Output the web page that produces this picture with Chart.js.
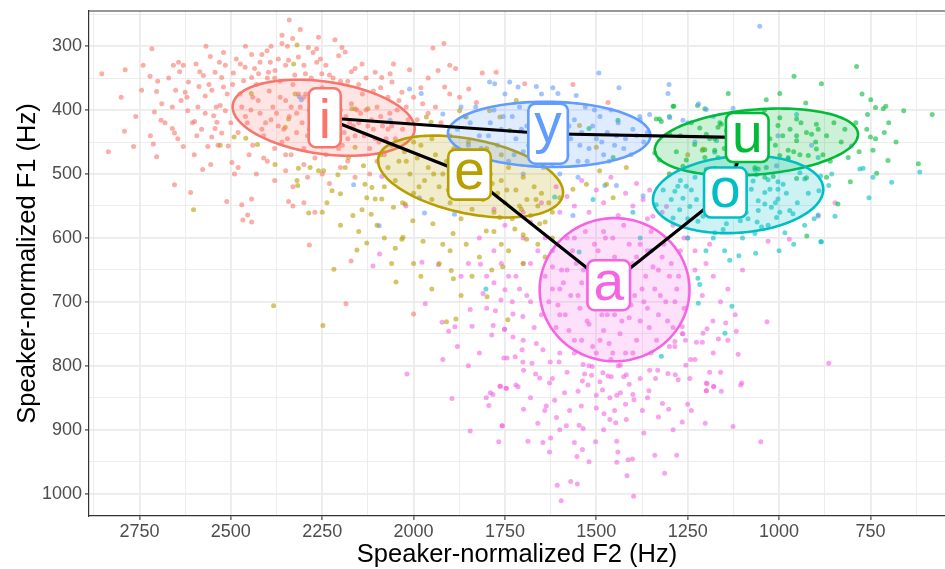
<!DOCTYPE html>
<html>
<head>
<meta charset="utf-8">
<script src="https://cdn.jsdelivr.net/npm/chart.js"></script>
<style>
  html, body { margin: 0; padding: 0; background: #fff; overflow: hidden; }
  canvas { display: block; }
</style>
</head>
<body>
<canvas id="vowelChart" width="945" height="569"></canvas>
<script>
// Vowel categories and colours (ggplot hue order)
const vowels = ['i', 'e', 'y', 'u', 'o', 'a'];
const vowelColors = ['#F8766D', '#B79F00', '#619CFF', '#00BA38', '#00BFC4', '#F564E3'];

// Vowel means (label positions), Hz
const meanF2 = [2243, 1847, 1632, 1087, 1147, 1466];
const meanF1 = [412, 501, 437, 443, 529, 674];

// Ellipse centre, half widths and tilt, Hz
const ellF2 = [2246, 1844, 1629, 1062, 1112, 1450];
const ellF1 = [412, 504, 438, 450, 532, 681];
const ellRx = [249, 253, 277, 278, 233, 205];
const ellRy = [57, 59, 51, 51, 60, 112];
const ellTilt = [17, 25, 2, -12, -8, 0];

// Order of the vowel polygon
const polygonOrder = ['i', 'y', 'u', 'o', 'a', 'e', 'i'];

// Tick labels and minor grid values
const xTickLabels = [2750, 2500, 2250, 2000, 1750, 1500, 1250, 1000, 750];
const xMinorGrid = [2875, 2625, 2375, 2125, 1875, 1625, 1375, 1125, 875, 625];
const yTickLabels = [300, 400, 500, 600, 700, 800, 900, 1000];
const yMinorGrid = [250, 350, 450, 550, 650, 750, 850, 950];

// Tokens: [F2, F1]
const iTokens = [
  [2853,343],[2789,337],[2716,304],[2835,465],[2791,433],[2766,457],[2744,369],[2721,347],[2703,371],[2689,390],
  [2709,403],[2691,416],[2712,453],[2703,473],[2657,330],[2643,325],[2630,330],[2651,369],[2636,385],[2618,401],
  [2625,372],[2616,356],[2660,429],[2654,436],[2630,457],[2593,440],[2599,418],[2595,328],[2575,346],[2568,300],
  [2556,316],[2577,493],[2654,517],[2610,529],[2587,363],[2570,378],[2552,369],[2543,341],[2531,325],[2515,330],
  [2525,349],[2520,364],[2529,393],[2515,401],[2547,409],[2538,419],[2543,429],[2525,436],[2552,442],[2507,456],
  [2563,457],[2497,482],[2511,543],[2470,548],[2454,564],[2467,572],[2443,575],[2443,539],[2493,342],[2474,328],
  [2461,333],[2443,313],[2415,313],[2401,307],[2465,354],[2443,349],[2424,343],[2392,325],[2397,341],[2379,338],
  [2360,283],[2360,296],[2340,259],[2310,274],[2331,288],[2342,322],[2315,317],[2288,302],[2260,286],[2265,304],
  [2265,325],[2296,343],[2251,343],[2196,302],[2187,309],[2205,315],[2160,335],[2141,328],[2105,341],[2087,349],
  [2064,343],[2055,328],[2059,356],[2032,372],
  [2470,395],[2455,420],[2440,380],[2420,405],[2410,440],[2395,370],[2385,395],[2370,425],[2360,450],[2350,385],
  [2340,410],[2330,360],[2320,435],[2310,395],[2300,460],[2295,375],[2280,420],[2270,445],[2260,390],[2250,365],
  [2240,470],[2230,400],[2215,430],[2205,380],[2195,455],[2185,410],[2170,390],[2160,440],[2150,420],[2140,375],
  [2130,400],[2120,460],[2110,430],[2100,395],[2090,410],[2075,445],[2060,425],[2045,400],[2030,430],[2015,415],
  [2350,470],[2380,350],[2230,345],[2180,355],[2440,455],[2290,440],
  [2460,410],[2425,385],[2405,420],[2375,405],[2355,430],[2335,395],[2315,375],[2305,420],[2285,400],[2275,380],
  [2255,425],[2245,440],[2225,385],[2210,410],[2190,435],[2175,420],[2155,400],[2135,440],[2115,415],[2095,450],
  [2070,430],[2050,445],[2205,460],[2260,455],
  [2445,400],[2415,430],[2390,415],[2365,380],[2345,445],[2320,405],[2300,380],[2285,430],[2265,410],[2235,420],
  [2220,445],[2200,400],[2180,445],[2165,425],[2145,405],[2125,425],[2105,445],[2085,425],[2065,405],
  [2480,490],[2430,500],[2400,480],[2380,510],[2350,495],[2330,520],[2300,485],[2290,505],[2270,475],[2250,500],
  [2230,515],[2200,490],[2180,480],[2160,505],[2120,500],[2300,545],[2330,550],[2270,560],[2080,470],[2100,480],
  [2800,380],[2760,410],[2740,330],[2720,440],[2700,355],[2680,420],[2670,350],[2660,395],[2645,445],[2640,340],
  [2620,380],[2605,420],[2600,470],[2590,395],[2585,340],[2580,430],[2570,405],[2560,360],[2555,485],[2540,395],
  [2535,455],[2520,310],[2510,375],[2500,420],[2495,360],[2490,500],[2485,320],[2480,435],[2475,375],[2460,300],
  [2450,470],[2435,335],[2430,360],[2420,325],[2410,475],[2400,350],[2390,300],[2380,460],[2370,320],[2365,355],
  [2350,330],[2345,300],[2335,470],[2325,345],[2300,330],[2280,350],[2275,310],[2255,320],[2240,330],[2220,350],
  [2215,290],[2200,355],[2170,340],[2150,360],[2130,350],[2110,370],[2090,365],[2070,380],[2040,385],[2020,395],
  [2000,380],[1980,365],[1960,350],
  [1947,303],[1917,296],[2011,337],[1933,338],[1901,330],[1885,335],[1915,364],[1901,375],[1874,380],[1849,367],
  [1812,342],[1774,341],[1828,388],[1696,359],[1564,360],[1468,388],[1975,390],[1960,405],[1940,395],[1925,420],
  [1990,415],[2171,636],[2185,703],[2000,719],[2285,611],[2342,543]
];

const eTokens = [
  [2319,298],[2328,328],[2444,374],[2529,455],[2491,442],[2459,444],[2427,454],[2351,427],[2342,414],[2324,375],
  [2602,556],[2287,561],[2379,485],[2315,491],[2283,490],[2319,510],[2317,518],[2260,495],[2246,495],[2237,545],
  [2223,526],[2200,531],[2207,501],[2187,490],[2169,398],[2160,398],[2125,398],[2178,474],[2160,458],[2137,487],
  [2133,516],[2114,521],[2128,537],[2105,539],[2087,539],[2141,556],[2166,565],[2116,563],[2055,552],[2023,547],
  [2032,602],[2050,616],[2128,608],[2155,619],[2218,649],[2048,669],[2383,706],[2248,737],[1897,651],[1891,664],
  [1786,650],[1756,645],[1910,731],[1884,727],[1799,692],[1742,728],
  [2090,470],[2070,490],[2060,455],[2050,510],[2040,480],[2025,465],[2010,500],[2000,530],[1990,475],[1980,455],
  [1970,510],[1960,490],[1950,540],[1940,470],[1930,520],[1920,500],[1910,480],[1900,545],[1890,460],[1880,515],
  [1870,495],[1860,530],[1850,475],[1840,555],[1830,505],[1820,485],[1810,540],[1800,520],[1790,500],[1780,560],
  [1770,530],[1760,510],[1750,545],[1740,490],[1730,570],[1720,525],[1710,550],[1700,505],[1690,540],[1680,565],
  [1670,520],[1660,550],[1650,530],[1640,575],[1630,545],[1620,560],[1900,440],[1850,450],[1800,460],[1760,470],
  [2000,450],[1950,445],[2080,520],[2030,545],[1870,570],[1780,590],[1700,595],
  [2020,480],[1985,520],[1945,500],[1905,525],[1865,485],[1825,525],[1785,515],[1745,525],[1705,555],[1665,540],
  [2250,560],[2200,580],[2150,590],[2100,580],[2080,600],[2060,640],[2000,640],[1980,660],[1950,680],[1930,640],
  [1900,620],[1870,690],[1840,660],[1820,630],[1760,610],[1740,620],[1700,640],[1660,610],[1640,630],[1620,600],
  [2002,573],[1974,605],[2029,599],[1947,578],[1892,593],[1920,610],[1856,610],[1801,589],[1764,568],[1723,586],
  [1691,602],[1655,578],[1600,537],[1564,524],[1527,516],[1491,495],[1472,516],[1454,537],[1418,490],[1719,385],
  [1764,411],[1792,401],[1637,432],[1546,424],[1500,458],[1600,458],[1856,411],[1874,401],[1952,419],[1965,411],
  [1208,461],[1300,500],[1250,470]
];

const yTokens = [
  [1792,356],[1778,359],[1737,356],[1714,364],[1664,363],[1619,365],[1605,374],[1555,377],[1493,342],[1438,365],
  [1301,360],[1304,374],[1979,374],[2011,367],[1920,406],[1984,537],[1970,561],[1888,563],[1477,518],[1445,518],
  [1372,534],[1299,412],[1263,416],
  [1880,430],[1860,410],[1850,455],[1830,395],[1820,440],[1800,470],[1790,420],[1780,400],[1770,455],[1760,430],
  [1740,480],[1730,410],[1720,445],[1710,395],[1700,465],[1690,425],[1680,440],[1670,405],[1660,475],[1650,450],
  [1640,390],[1630,420],[1620,485],[1610,460],[1600,430],[1590,400],[1580,470],[1570,445],[1560,415],[1550,480],
  [1540,435],[1530,395],[1520,460],[1510,425],[1500,445],[1490,410],[1480,470],[1470,435],[1460,400],[1450,455],
  [1440,420],[1420,445],[1400,430],[1380,415],[1370,450],[1360,435],[1600,500],[1700,500],[1550,505],[1750,375],
  [1650,375],
  [1870,395],[1845,420],[1815,460],[1795,440],[1755,410],[1725,470],[1705,430],[1685,455],[1655,420],[1645,490],
  [1625,445],[1595,480],[1575,425],[1545,455],[1525,480],[1505,400],[1485,450],[1465,480],[1445,440],[1425,460],
  [1405,470],[1390,440],
  [1053,269],[1199,399],[1126,397],[1003,440],[911,455],[1007,487],[802,456],[2164,517],[2094,581],[2313,379],
  [2307,384],[2064,416],[1564,565],[1381,410],[1354,407],[1250,420],[1220,390],[1180,410],[1230,450]
];

const uTokens = [
  [788,332],[959,347],[884,359],[1139,374],[998,374],[1035,384],[927,389],[773,375],[749,384],[736,396],
  [715,398],[708,394],[659,401],[581,407],[758,407],[712,435],[750,442],[736,445],[743,463],[781,465],
  [811,474],[702,479],[619,484],[733,499],[805,512],[924,597],[839,547],[870,505],
  [952,414],[898,422],[893,430],[925,435],[911,438],[952,440],[952,448],[898,461],[975,463],[998,412],
  [1003,424],[1035,424],[1025,445],[998,471],[943,470],[920,471],[975,476],[1035,490],[1057,492],[1016,504],
  [1039,505],[952,507],[925,506],[1158,422],[1167,427],[1144,432],[1176,445],[1117,453],[1176,463],[1203,474],
  [1167,474],[1117,484],[1066,490],[1199,495],[1210,463],
  [1336,414],[1322,418],[1290,394],[1217,428],[1199,438],[1162,420],[1299,438],[1281,465],[1327,478],[1340,467],
  [1254,478],[1203,462],[1231,454],[1176,491],[1199,493],[1263,488],
  [1288,394],[1327,414],[1441,416],[1520,429],[1454,474],[1737,432],[1223,393],[1203,398],
  [1100,430],[1080,465],[1050,410],[1010,455],[970,430],[870,440],[850,420],[830,450],[1120,470],[1090,500],
  [1300,410],[1270,440],[1240,420],[1190,445],[1150,460],[1130,410],[1070,440],[1060,460],[1040,400],[990,440],
  [960,465],[940,420],[900,450],[880,470],[860,480],[820,430],[790,420],[760,430],[700,420],[680,450]
];

const oTokens = [
  [952,407],[975,474],[893,474],[779,492],[770,491],[615,497],[743,505],[692,513],[754,537],[847,566],
  [904,570],[891,526],[864,518],[856,500],[886,503],[943,498],[930,508],[989,516],[1025,524],[1003,524],
  [1071,511],[1076,524],[1039,529],[1057,542],[1039,547],[1003,539],[1021,552],[998,560],[971,557],[962,562],
  [1007,568],[1057,557],[1085,570],[1048,583],[1066,593],[984,592],[1106,573],[1144,578],[1149,620],[1135,635],
  [1110,628],[1064,624],[886,606],[1171,448],[1176,466],
  [1254,519],[1240,525],[1263,538],[1244,551],[1272,556],[1285,527],[1295,540],[1277,519],[1226,540],[1208,566],
  [1222,574],[1290,569],[1317,525],[1336,548],[1126,558],[1176,592],[1153,587],[1066,493],[1062,501],[1030,509],
  [1003,512],[893,564],[884,606],
  [1300,500],[1270,510],[1230,505],[1200,530],[1180,550],[1150,520],[1130,500],[1110,535],[1090,560],[1060,575],
  [1030,580],[1010,545],[980,530],[950,545],[930,580],[920,530],[960,610],[1000,620],[1100,600],[1250,570],
  [1547,622],[1222,663],[1217,673],[1322,785],[1221,702],[1129,707],[1148,749],[1802,680],[1614,536],[1509,540],
  [1400,560],[1380,600],[1350,620],[1190,510],[1160,540],[1120,520],[1100,545],[1180,600],[1200,620],[1250,600]
];

const aTokens = [
  [1728,719],[1701,723],[1751,743],[1728,755],[1703,775],[1744,788],[1722,786],[1701,794],[1676,796],[1699,807],
  [1714,833],[1746,835],[1764,832],[1664,765],[1646,775],[1626,794],[1602,794],[1666,813],[1655,819],[1628,827],
  [1587,842],[1614,854],[1637,863],[1699,868],[1641,870],[1573,870],[1541,863],[1609,881],[1582,894],[1547,893],
  [1536,898],[1757,894],[1687,918],[1646,920],[1625,913],[1628,935],[1502,919],[1553,942],[1538,931],[1444,918],
  [1441,935],[1444,951],[1413,947],[1401,946],[1416,972],[1313,968],[1607,987],[1570,981],[1552,985],[1596,1011],
  [1398,1004],[1536,798],[1511,801],[1532,813],[1513,815],[1523,830],[1538,824],[1482,811],[1468,816],[1459,817],
  [1425,817],[1418,814],[1434,799],[1410,829],[1483,838],[1500,846],[1463,850],[1400,845],[1397,853],[1434,842],
  [1444,846],[1500,866],[1479,875],[1463,884],[1447,889],[1418,884],[1374,870],[1354,807],[1338,820],[1332,807],
  [1319,859],[1302,868],[1304,812],[1284,814],[1276,822],[1356,839],[1244,820],[1255,799],[1242,790],[1265,888],
  [1202,890],[1190,810],[1199,827],[1179,832],[1199,839],[1158,840],[1126,895],[1102,827],[1105,830],[1112,782],
  [1050,919],[1033,731],[1117,746],[1146,733],[1166,758],[1181,730],[1197,742],[1208,749],[1226,763],[1210,763],
  [1256,760],[1263,750],[1265,739],[1285,762],[1285,770],
  [2111,644],[1977,638],[1932,642],[1817,641],[1968,703],[1922,732],[1904,746],[1887,739],[1840,738],[1845,712],
  [1810,687],[1780,670],[1776,714],[1782,737],[1786,752],[1761,697],[1750,681],[1751,743],[1753,788],[2018,813],
  [1895,851],[1801,850],[1790,842],[1783,845],[1794,862],[1762,832],[1747,835],[1758,894],[1845,902],[1767,919],
  [2087,504],[2021,550],[2093,625],
  [1640,660],[1630,700],[1620,620],[1610,740],[1600,680],[1595,650],[1585,720],[1580,600],[1570,690],[1560,760],
  [1555,640],[1545,710],[1540,670],[1530,590],[1525,730],[1515,650],[1510,770],[1500,700],[1495,620],[1490,680],
  [1480,745],[1475,600],[1470,720],[1460,660],[1455,780],[1450,630],[1440,700],[1435,750],[1425,580],[1420,670],
  [1410,725],[1400,640],[1395,690],[1390,760],[1380,610],[1370,700],[1365,660],[1355,740],[1350,590],[1340,680],
  [1330,720],[1320,630],[1310,700],[1300,660],[1290,740],[1280,680],[1270,620],[1260,710],[1520,800],[1440,800],
  [1480,590],[1560,600],[1600,780],[1650,720],[1640,600],[1350,780],[1300,770],[1580,650],[1470,650],[1410,610],
  [1330,650],[1450,720],[1540,760],[1620,680],[1380,730],[1490,760],[1420,780],[1360,620],[1520,700],[1430,660],
  [1620,645],[1605,705],[1590,670],[1575,745],[1565,620],[1550,690],[1535,650],[1520,735],[1505,610],[1495,655],
  [1485,720],[1470,690],[1465,765],[1455,600],[1445,675],[1430,730],[1415,650],[1405,705],[1390,630],[1375,680],
  [1360,710],[1345,645],[1335,760],[1325,690],[1315,610],[1305,730],[1295,640],[1285,700],[1275,660],[1265,750],
  [1600,720],[1560,780],[1500,780],[1460,790],[1400,780],[1620,820],[1580,810],[1550,840],[1490,825],[1380,820],
  [1360,850],[1330,880],[1290,900],[1250,860],[1230,790],[1700,760],[1720,830],[1680,850],[1660,890],[1600,900],
  [1560,920],[1520,950],[1480,900],[1450,870],[1420,860],[1370,905],[1340,940],[1280,940],[1240,870],[1180,780],
  [1160,810],[1140,760],[1680,700],[1700,640],[1660,620],[1740,660],[1800,710],[1820,780],[1850,800],[1880,770],
  [1920,790],
  [1700,560],[1680,575],[1650,545],[1600,560],[1560,550],[1520,560],[1480,545],[1440,565],[1400,550],[1360,570],
  [1320,560],[1290,580],[1260,600],[1230,620],[1200,640],[1700,600],[1750,580],[1780,620],[1820,600],[1850,640],
  [1870,660],[1800,660],[1760,640],[1720,660],[1680,640],
  [1230,650],[1210,690],[1180,660],[1160,700],[1140,680],[1120,720],[1100,650],[1250,600],[1190,610],
  [1372,540],[1354,525],[1345,566],[1308,551],[847,545],[893,566],[972,602],[1030,605],[864,796],[1197,828],
  [1199,839],[1179,833],[1690,690],[1670,740],[1710,680],[1730,700],[1900,520],[1780,555],
  [1540,510],[1500,525],[1460,505],[1420,530],[1390,515],[1610,520],[1580,535]
];

const tokensByVowel = [iTokens, eTokens, yTokens, uTokens, oTokens, aTokens];

const fontFamily = '"Liberation Sans", Arial, Helvetica, sans-serif';

function hexA(hex, a) {
  const n = parseInt(hex.slice(1), 16);
  return `rgba(${(n >> 16) & 255},${(n >> 8) & 255},${n & 255},${a})`;
}

// Ellipses, vowel polygon and boxed labels on top of the points
const vowelOverlay = {
  id: 'vowelOverlay',
  afterDatasetsDraw(chart) {
    const { ctx, chartArea, scales: { x, y } } = chart;
    ctx.save();
    ctx.beginPath();
    ctx.rect(chartArea.left, chartArea.top, chartArea.right - chartArea.left, chartArea.bottom - chartArea.top);
    ctx.clip();

    vowels.forEach((v, k) => {
      ctx.beginPath();
      for (let s = 0; s <= 160; s++) {
        const t = s / 160 * Math.PI * 2;
        const f2 = ellF2[k] + ellRx[k] * Math.cos(t);
        const f1 = ellF1[k] + ellRy[k] * Math.sin(t) - ellTilt[k] * Math.cos(t);
        const px = x.getPixelForValue(f2), py = y.getPixelForValue(f1);
        if (s === 0) ctx.moveTo(px, py); else ctx.lineTo(px, py);
      }
      ctx.closePath();
      ctx.fillStyle = hexA(vowelColors[k], 0.2);
      ctx.fill();
      ctx.lineWidth = 2.6;
      ctx.strokeStyle = vowelColors[k];
      ctx.stroke();
    });

    // vowel polygon
    ctx.beginPath();
    polygonOrder.forEach((v, n) => {
      const k = vowels.indexOf(v);
      const px = x.getPixelForValue(meanF2[k]), py = y.getPixelForValue(meanF1[k]);
      if (n === 0) ctx.moveTo(px, py); else ctx.lineTo(px, py);
    });
    ctx.lineWidth = 3.2;
    ctx.lineJoin = 'round';
    ctx.strokeStyle = '#000';
    ctx.stroke();

    // labels
    ctx.font = `55px ${fontFamily}`;
    ctx.textAlign = 'center';
    ctx.textBaseline = 'alphabetic';
    vowels.forEach((v, k) => {
      const px = x.getPixelForValue(meanF2[k]), py = y.getPixelForValue(meanF1[k]);
      const m = ctx.measureText(v);
      const asc = m.actualBoundingBoxAscent, desc = m.actualBoundingBoxDescent;
      const w = Math.max(m.width + 12, 32);
      const h = asc + desc + 19;
      ctx.beginPath();
      ctx.roundRect(px - w / 2, py - h / 2, w, h, 7);
      ctx.fillStyle = '#fff';
      ctx.fill();
      ctx.lineWidth = 2.6;
      ctx.strokeStyle = vowelColors[k];
      ctx.stroke();
      ctx.fillStyle = vowelColors[k];
      ctx.fillText(v, px, py + (asc - desc) / 2);
    });
    ctx.restore();

    // top panel border
    ctx.save();
    ctx.beginPath();
    ctx.moveTo(chartArea.left, chartArea.top);
    ctx.lineTo(chartArea.right + 2, chartArea.top);
    ctx.lineWidth = 1.2;
    ctx.strokeStyle = '#333333';
    ctx.stroke();
    ctx.restore();
  }
};

const isMajor = (list, v) => list.includes(v);

new Chart(document.getElementById('vowelChart'), {
  type: 'scatter',
  data: {
    datasets: vowels.map((v, k) => ({
      label: v,
      data: tokensByVowel[k].map(p => ({ x: p[0], y: p[1] })),
      pointRadius: 2.5,
      pointBorderWidth: 0,
      pointHoverRadius: 0,
      pointBackgroundColor: hexA(vowelColors[k], 0.6)
    }))
  },
  options: {
    responsive: false,
    animation: false,
    events: [],
    layout: { autoPadding: false, padding: { top: 11, right: 0, left: 0, bottom: 0 } },
    plugins: { legend: { display: false }, tooltip: { enabled: false } },
    scales: {
      x: {
        type: 'linear',
        reverse: true,
        min: 546,
        max: 2888,
        afterBuildTicks: axis => {
          axis.ticks = xTickLabels.concat(xMinorGrid).sort((a, b) => a - b).map(v => ({ value: v }));
        },
        afterFit: axis => {
          axis.height = 53;
          axis.paddingLeft = 0;
          axis.paddingRight = 0;
        },
        ticks: {
          autoSkip: false,
          maxRotation: 0,
          padding: 1,
          color: '#4D4D4D',
          font: { size: 18, family: fontFamily },
          callback: v => isMajor(xTickLabels, v) ? String(v) : ''
        },
        grid: {
          color: '#EBEBEB',
          lineWidth: c => isMajor(xTickLabels, c.tick.value) ? 1.8 : 0.9,
          tickLength: 4,
          tickWidth: 1.1,
          tickColor: c => isMajor(xTickLabels, c.tick.value) ? '#333333' : 'rgba(0,0,0,0)'
        },
        border: { display: true, color: '#333333', width: 1.2 },
        title: {
          display: true,
          text: 'Speaker-normalized F2 (Hz)',
          color: '#000',
          font: { size: 25.5, family: fontFamily, lineHeight: 1 },
          padding: { top: 0, bottom: 1.5 }
        }
      },
      y: {
        type: 'linear',
        reverse: true,
        min: 245,
        max: 1035,
        afterBuildTicks: axis => {
          axis.ticks = yTickLabels.concat(yMinorGrid).sort((a, b) => a - b).map(v => ({ value: v }));
        },
        afterFit: axis => {
          axis.width = 89;
          axis.paddingTop = 0;
          axis.paddingBottom = 0;
        },
        ticks: {
          autoSkip: false,
          padding: 3,
          color: '#4D4D4D',
          font: { size: 18, family: fontFamily },
          callback: v => isMajor(yTickLabels, v) ? String(v) : ''
        },
        grid: {
          color: '#EBEBEB',
          lineWidth: c => isMajor(yTickLabels, c.tick.value) ? 1.8 : 0.9,
          tickLength: 4,
          tickWidth: 1.1,
          tickColor: c => isMajor(yTickLabels, c.tick.value) ? '#333333' : 'rgba(0,0,0,0)'
        },
        border: { display: true, color: '#333333', width: 1.2 },
        title: {
          display: true,
          text: 'Speaker-normalized F1 (Hz)',
          color: '#000',
          font: { size: 25.5, family: fontFamily },
          padding: { top: 13, bottom: 0 }
        }
      }
    }
  },
  plugins: [vowelOverlay]
});
</script>
</body>
</html>
